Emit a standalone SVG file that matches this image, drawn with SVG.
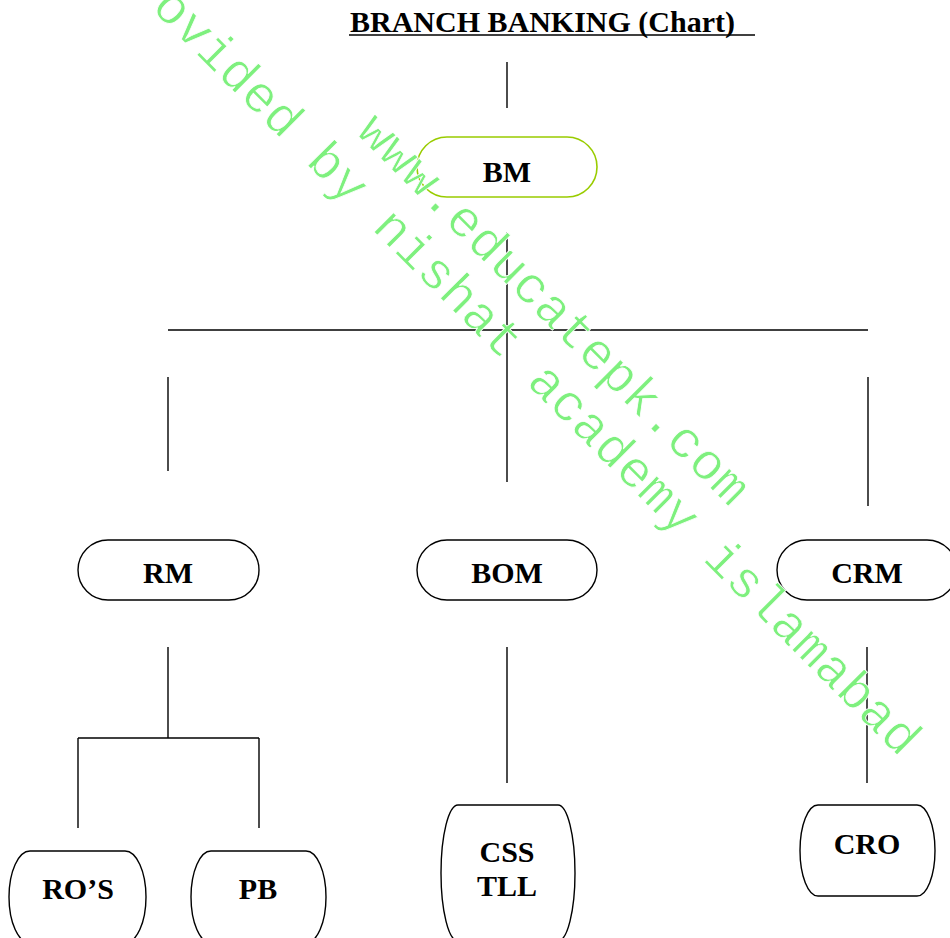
<svg xmlns="http://www.w3.org/2000/svg" width="950" height="938" viewBox="0 0 950 938">
<style>
.box{fill:none;stroke:#000;stroke-width:1.4}
.lbl{font-family:"Liberation Serif","Times New Roman",serif;font-weight:bold;font-size:30px;fill:#000;text-anchor:middle}
.ln{stroke:#000;stroke-width:1.4;fill:none}
.wm{font-family:"Liberation Mono","Courier New",monospace;font-size:52px;fill:#7ef07e;stroke:#fff;stroke-width:0.8}
</style>
<rect width="950" height="938" fill="#fff"/>
<g id="title">
<text x="350" y="32" style="font-family:'Liberation Serif','Times New Roman',serif;font-weight:bold;font-size:30px;fill:#000">BRANCH BANKING (Chart)</text>
<line x1="349" y1="35" x2="755" y2="35" stroke="#000" stroke-width="1.5"/>
</g>
<g id="connectors">
<line class="ln" x1="507" y1="62" x2="507" y2="108"/>
<line class="ln" x1="507" y1="232" x2="507" y2="482"/>
<line class="ln" x1="168" y1="330" x2="868" y2="330"/>
<line class="ln" x1="168" y1="377" x2="168" y2="471"/>
<line class="ln" x1="868" y1="377" x2="868" y2="506"/>
<line class="ln" x1="168" y1="647" x2="168" y2="738"/>
<line class="ln" x1="78" y1="738" x2="259" y2="738"/>
<line class="ln" x1="78" y1="738" x2="78" y2="828"/>
<line class="ln" x1="259" y1="738" x2="259" y2="828"/>
<line class="ln" x1="507" y1="647" x2="507" y2="783"/>
<line class="ln" x1="867" y1="647" x2="867" y2="783"/>
</g>
<g id="BM">
<rect x="417" y="137" width="180" height="60" rx="30" ry="30" fill="none" stroke="#99cc00" stroke-width="1.6"/>
<text class="lbl" x="507" y="182">BM</text>
</g>
<g id="RM">
<rect class="box" x="78" y="540" width="181" height="60" rx="30" ry="30"/>
<text class="lbl" x="168" y="583">RM</text>
</g>
<g id="BOM">
<rect class="box" x="417" y="540" width="180" height="60" rx="30" ry="30"/>
<text class="lbl" x="507" y="583">BOM</text>
</g>
<g id="CRM">
<rect class="box" x="777" y="540" width="180" height="60" rx="30" ry="30"/>
<text class="lbl" x="867" y="583">CRM</text>
</g>
<g id="ROS">
<rect class="box" x="9" y="851" width="137" height="92" rx="21" ry="46"/>
<text class="lbl" x="78" y="899">RO’S</text>
</g>
<g id="PB">
<rect class="box" x="191" y="851" width="135" height="92" rx="20" ry="46"/>
<text class="lbl" x="258" y="899">PB</text>
</g>
<g id="CSS">
<rect class="box" x="441" y="805" width="134" height="136" rx="17" ry="68"/>
<text class="lbl" x="507" y="862">CSS</text>
<text class="lbl" x="507" y="896">TLL</text>
</g>
<g id="CRO">
<rect class="box" x="800" y="805" width="135" height="91" rx="18" ry="45.5"/>
<text class="lbl" x="867" y="854">CRO</text>
</g>
<g id="watermark">
<text class="wm" transform="translate(355,133) rotate(45)">www.educatepk.com</text>
<text class="wm" transform="translate(106,-36) rotate(45)">provided by nishat academy islamabad</text>
</g>
</svg>
